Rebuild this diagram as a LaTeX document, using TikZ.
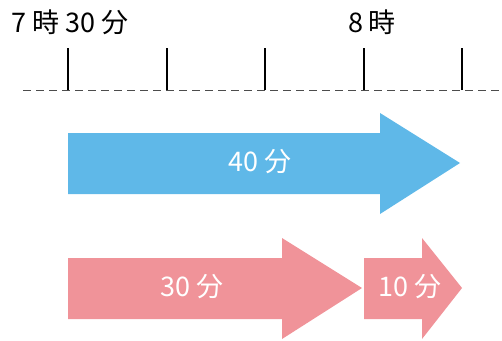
\documentclass[tikz,border=0pt]{standalone}
\usepackage{fontspec}
\setmainfont{Noto Sans CJK JP}
\definecolor{skyblue}{HTML}{5FB8E8}
\definecolor{rosepink}{HTML}{F09399}
\begin{document}
\begin{tikzpicture}[x=1pt,y=-1pt,
  lbl/.style={font=\fontsize{27}{27}\selectfont, inner sep=0pt, anchor=center},
  inlbl/.style={lbl, text=white},
  tick/.style={line width=2pt, black},
  base/.style={line width=1pt, black!70, dash pattern=on 8pt off 5pt},
  blue arrow/.style={fill=skyblue, draw=none},
  pink arrow/.style={fill=rosepink, draw=none}]
\useasboundingbox (0,0) rectangle (502,340);
% timeline
\coordinate (lstart) at (23,90);
\coordinate (lend) at (502,90);
\draw[base] (lstart) -- (lend);
\foreach \i/\x in {1/68,2/167,3/265,4/364,5/462}{
  \coordinate (t\i) at (\x,90);
  \coordinate (tt\i) at (\x,48);
  \draw[tick] (t\i) -- (tt\i);
}
\node[lbl] (start) at (70,22) {7\hspace{6pt}時\hspace{6pt}30\hspace{6pt}分};
\node[lbl] (eight) at (372,22) {8\hspace{6pt}時};
% blue arrow
\fill[blue arrow] (68,133) -- (380,133) -- (380,113) -- (460,163) -- (380,214) -- (380,194) -- (68,194) -- cycle;
\node[inlbl] (forty) at (260,162) {40\hspace{6pt}分};
% pink arrows
\fill[pink arrow] (68,258) -- (282,258) -- (282,238) -- (362,288) -- (282,339) -- (282,319) -- (68,319) -- cycle;
\node[inlbl] (thirty) at (192,287) {30\hspace{6pt}分};
\fill[pink arrow] (364,258) -- (422,258) -- (422,238) -- (462,288) -- (422,339) -- (422,319) -- (364,319) -- cycle;
\node[inlbl] (ten) at (410,287) {10\hspace{6pt}分};
\end{tikzpicture}
\end{document}
